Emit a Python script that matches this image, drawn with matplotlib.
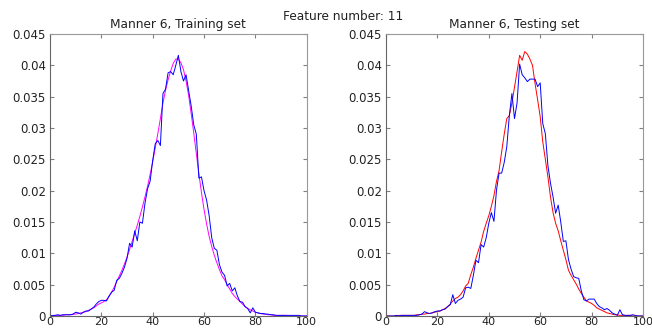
import matplotlib
matplotlib.use('Agg')
import matplotlib.pyplot as plt
import numpy as np

# feature values (x grid) and histograms
feature_x = list(range(0, 101))

train_model = [
    0.0000, 0.0000, 0.0001, 0.0001, 0.0001, 0.0001, 0.0002, 0.0002, 0.0002, 0.0003,
    0.0003, 0.0004, 0.0005, 0.0006, 0.0007, 0.0009, 0.0011, 0.0013, 0.0016, 0.0019,
    0.0021, 0.0023, 0.0026, 0.0031, 0.0038, 0.0046, 0.0055, 0.0064, 0.0073, 0.0083,
    0.0094, 0.0106, 0.0119, 0.0132, 0.0145, 0.0159, 0.0174, 0.0190, 0.0207, 0.0226,
    0.0246, 0.0268, 0.0291, 0.0315, 0.0340, 0.0360, 0.0377, 0.0391, 0.0403, 0.0410,
    0.0410, 0.0404, 0.0393, 0.0375, 0.0352, 0.0323, 0.0292, 0.0259, 0.0227, 0.0197,
    0.0170, 0.0147, 0.0127, 0.0111, 0.0097, 0.0085, 0.0074, 0.0064, 0.0058, 0.0050,
    0.0043, 0.0036, 0.0031, 0.0027, 0.0023, 0.0019, 0.0015, 0.0012, 0.0010, 0.0008,
    0.0006, 0.0005, 0.0004, 0.0003, 0.0003, 0.0002, 0.0002, 0.0001, 0.0001, 0.0001,
    0.0001, 0.0001, 0.0001, 0.0000, 0.0000, 0.0000, 0.0000, 0.0000, 0.0000, 0.0000,
    0.0000,
]

train_data = [
    0.0000, 0.0001, 0.0001, 0.0002, 0.0001, 0.0002, 0.0002, 0.0002, 0.0002, 0.0003,
    0.0006, 0.0005, 0.0003, 0.0006, 0.0008, 0.0008, 0.0011, 0.0014, 0.0019, 0.0023,
    0.0025, 0.0025, 0.0024, 0.0032, 0.0038, 0.0041, 0.0057, 0.0060, 0.0068, 0.0078,
    0.0092, 0.0116, 0.0110, 0.0136, 0.0120, 0.0150, 0.0148, 0.0180, 0.0203, 0.0215,
    0.0248, 0.0275, 0.0280, 0.0272, 0.0355, 0.0362, 0.0388, 0.0390, 0.0385, 0.0400,
    0.0416, 0.0390, 0.0375, 0.0385, 0.0360, 0.0335, 0.0305, 0.0290, 0.0220, 0.0222,
    0.0200, 0.0185, 0.0160, 0.0125, 0.0108, 0.0105, 0.0082, 0.0070, 0.0065, 0.0048,
    0.0052, 0.0040, 0.0045, 0.0032, 0.0023, 0.0022, 0.0015, 0.0012, 0.0005, 0.0013,
    0.0006, 0.0005, 0.0004, 0.0004, 0.0003, 0.0003, 0.0002, 0.0002, 0.0001, 0.0001,
    0.0001, 0.0001, 0.0001, 0.0001, 0.0001, 0.0001, 0.0001, 0.0001, 0.0000, 0.0000,
    0.0000,
]

test_model = [
    0.0000, 0.0000, 0.0000, 0.0000, 0.0000, 0.0001, 0.0001, 0.0001, 0.0001, 0.0001,
    0.0001, 0.0001, 0.0002, 0.0002, 0.0003, 0.0003, 0.0004, 0.0004, 0.0005, 0.0006,
    0.0007, 0.0008, 0.0010, 0.0012, 0.0015, 0.0019, 0.0024, 0.0028, 0.0030, 0.0034,
    0.0040, 0.0048, 0.0052, 0.0066, 0.0078, 0.0092, 0.0105, 0.0118, 0.0135, 0.0148,
    0.0160, 0.0175, 0.0192, 0.0215, 0.0232, 0.0262, 0.0290, 0.0315, 0.0320, 0.0340,
    0.0365, 0.0390, 0.0416, 0.0408, 0.0422, 0.0418, 0.0410, 0.0400, 0.0371, 0.0345,
    0.0318, 0.0278, 0.0250, 0.0222, 0.0190, 0.0165, 0.0148, 0.0136, 0.0120, 0.0105,
    0.0090, 0.0073, 0.0065, 0.0058, 0.0051, 0.0043, 0.0036, 0.0030, 0.0024, 0.0022,
    0.0020, 0.0017, 0.0013, 0.0011, 0.0009, 0.0007, 0.0005, 0.0004, 0.0003, 0.0002,
    0.0002, 0.0001, 0.0001, 0.0001, 0.0001, 0.0001, 0.0000, 0.0000, 0.0000, 0.0000,
    0.0000,
]

test_data = [
    0.0000, 0.0000, 0.0000, 0.0000, 0.0001, 0.0000, 0.0001, 0.0001, 0.0001, 0.0001,
    0.0001, 0.0001, 0.0001, 0.0002, 0.0003, 0.0007, 0.0005, 0.0004, 0.0005, 0.0007,
    0.0008, 0.0008, 0.0010, 0.0011, 0.0015, 0.0018, 0.0034, 0.0020, 0.0025, 0.0027,
    0.0030, 0.0045, 0.0046, 0.0044, 0.0065, 0.0089, 0.0085, 0.0114, 0.0110, 0.0125,
    0.0148, 0.0165, 0.0151, 0.0201, 0.0228, 0.0228, 0.0245, 0.0270, 0.0320, 0.0355,
    0.0315, 0.0340, 0.0402, 0.0385, 0.0380, 0.0374, 0.0378, 0.0378, 0.0378, 0.0366,
    0.0372, 0.0307, 0.0291, 0.0240, 0.0212, 0.0190, 0.0164, 0.0177, 0.0150, 0.0119,
    0.0120, 0.0090, 0.0075, 0.0063, 0.0061, 0.0060, 0.0040, 0.0026, 0.0024, 0.0027,
    0.0027, 0.0027, 0.0020, 0.0015, 0.0013, 0.0010, 0.0012, 0.0009, 0.0005, 0.0003,
    0.0001, 0.0010, 0.0002, 0.0001, 0.0001, 0.0001, 0.0002, 0.0001, 0.0000, 0.0000,
    0.0000,
]

x_ticks = [0, 20, 40, 60, 80, 100]
y_ticks = [0, 0.005, 0.01, 0.015, 0.02, 0.025, 0.03, 0.035, 0.04, 0.045]
y_labels = ['0', '0.005', '0.01', '0.015', '0.02', '0.025', '0.03', '0.035', '0.04', '0.045']

plt.rcParams['font.family'] = 'DejaVu Sans'
plt.rcParams['font.size'] = 8.5

fig = plt.figure(figsize=(6.52, 3.29), dpi=100)
fig.patch.set_facecolor('white')

ax1 = fig.add_axes([0.0767, 0.0395, 0.3937, 0.8572])
ax2 = fig.add_axes([0.592, 0.0395, 0.3942, 0.8572])


def style_axes(ax, title):
    ax.set_xlim(0, 100)
    ax.set_ylim(0, 0.045)
    ax.set_xticks(x_ticks)
    ax.set_yticks(y_ticks)
    ax.set_yticklabels(y_labels)
    ax.tick_params(direction='in', top=True, right=True, length=3,
                   width=0.8, color='#808080', labelsize=8.5,
                   labelcolor='#222222')
    ax.tick_params(axis='y', pad=3)
    ax.tick_params(axis='x', pad=1, labelsize=8)
    for side in ['left', 'bottom']:
        ax.spines[side].set_color('#666666')
    for side in ['top', 'right']:
        ax.spines[side].set_color('#999999')
    for sp in ax.spines.values():
        sp.set_linewidth(0.8)
    ax.set_title(title, fontsize=8.7, pad=4, color='#222222')


ax1.plot(feature_x, train_model, color='#ff00ff', linewidth=0.7)
ax1.plot(feature_x, train_data, color='#0000ff', linewidth=0.7)
style_axes(ax1, 'Manner 6, Training set')

ax2.plot(feature_x, test_model, color='#ff0000', linewidth=0.7)
ax2.plot(feature_x, test_data, color='#0000ff', linewidth=0.7)
style_axes(ax2, 'Manner 6, Testing set')

fig.text(0.527, 0.951, 'Feature number: 11', ha='center', va='center',
         fontsize=8.7, color='#222222')

plt.savefig('out.png', dpi=100)
